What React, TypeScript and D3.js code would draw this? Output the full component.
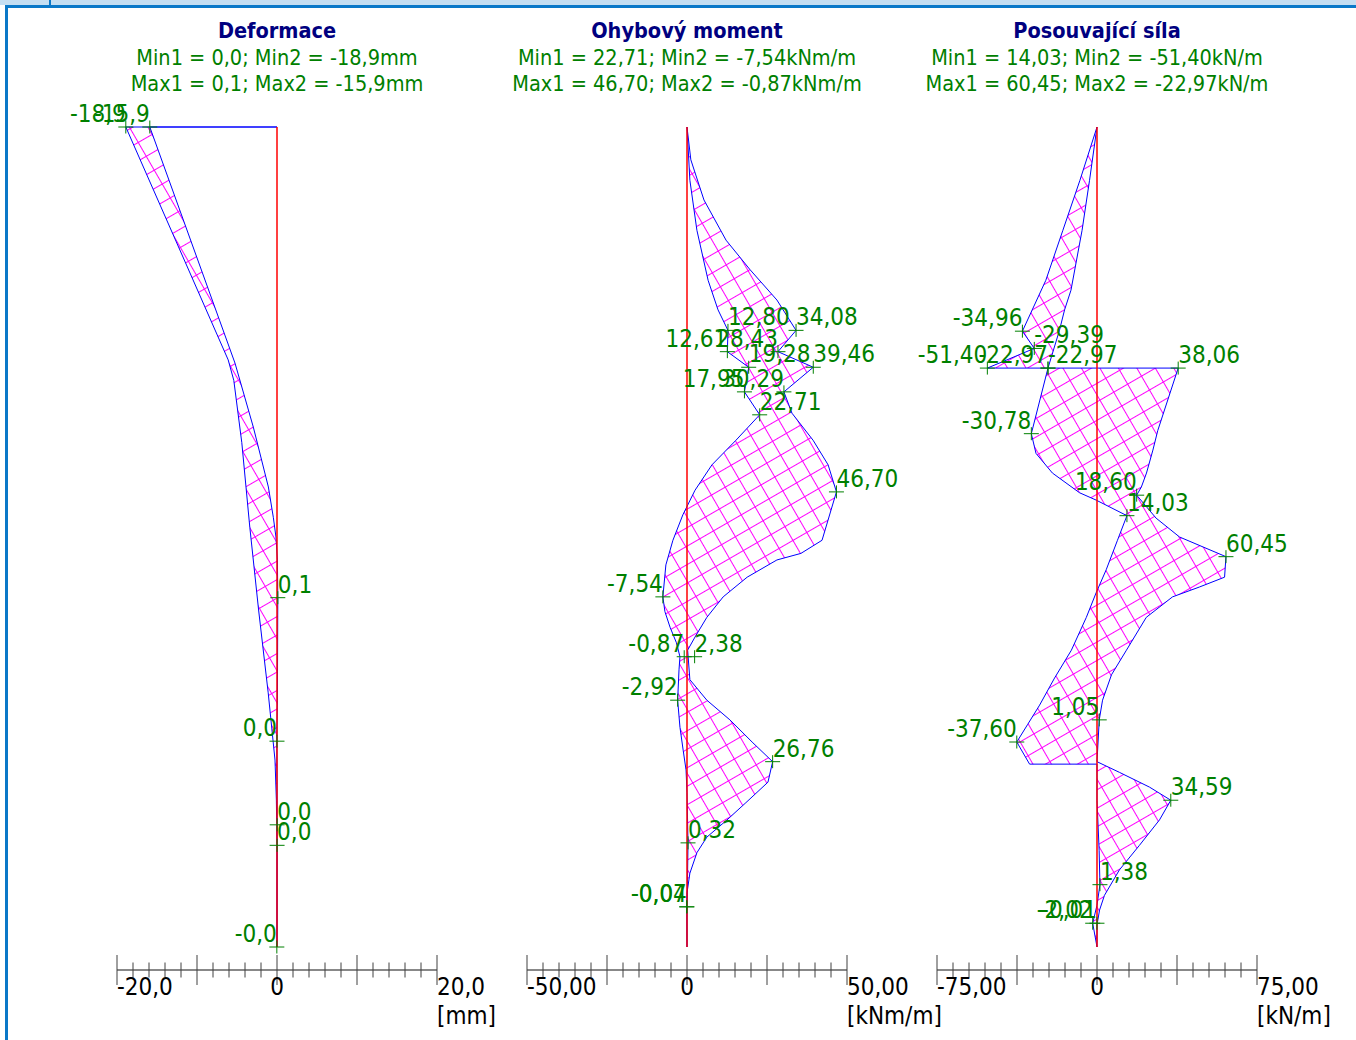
import React, { useRef, useEffect } from 'react';
import * as d3 from 'd3';

// --- panels ---
const titles = ['Deformace', 'Ohybový moment', 'Posouvající síla'];
const units = ['mm', 'kNm/m', 'kN/m'];
const axisMax = [20, 50, 75];
const decimals = [1, 2, 2];
const min1 = [0.0, 22.71, 14.03];
const min2 = [-18.9, -7.54, -51.4];
const max1 = [0.1, 46.7, 60.45];
const max2 = [-15.9, -0.87, -22.97];

// depth along the wall [m], 0 = top
// deformace [mm]
const deformDepthA = [0, 2.84, 3.09, 3.85, 4.88, 5.89, 6.9, 7.72, 8.21, 8.82, 10];
const deformA = [-18.9, -6.1, -5.4, -4.4, -3.4, -2.3, -1.1, -0.25, -0.08, 0, 0];
const deformDepthB = [0, 2.88, 3.66, 4.39, 4.76, 5.0, 5.28, 5.74, 6.99, 7.49, 8.51, 10];
const deformB = [-15.9, -5.25, -2.96, -1.08, -0.46, -0.13, 0.05, 0.1, 0.05, -0.02, 0.02, 0];

// ohybovy moment [kNm/m]
const momentDepthA = [0, 0.65, 1.26, 1.87, 2.23, 2.48, 2.74, 2.93, 3.23, 3.51, 3.82, 4.12, 4.43, 4.73, 5.04, 5.34, 5.73,
  5.91, 6.1, 6.29, 6.46, 6.62, 6.99, 7.32, 7.6, 7.84, 8.12, 8.73, 9.34, 9.51, 10];
const momentA = [0, 0.9, 3.1, 6.6, 9.7, 12.8, 12.61, 19.28, 17.95, 22.71, 15.3, 7.8, 2.5, -1.3, -4.4, -6.6, -7.54,
  -6.9, -5.3, -3.3, -2.2, -2.5, -2.92, -2.2, -1.2, -0.3, 0, 0.32, 0.1, -0.05, 0];
const momentDepthB = [0, 0.4, 0.89, 1.38, 1.74, 2.11, 2.48, 2.74, 2.93, 3.23, 3.49, 3.82, 4.12, 4.45, 5.04, 5.2, 5.28,
  5.49, 5.73, 5.98, 6.22, 6.38, 6.74, 6.99, 7.23, 7.51, 7.74, 7.99, 8.24, 8.45, 8.66, 8.85, 9.1, 9.34, 10];
const momentB = [0, 1.2, 5.3, 12.2, 19.7, 28.1, 34.08, 28.43, 39.46, 30.29, 32.8, 39.4, 44.1, 46.7, 42.2, 35.6, 28.1,
  18.8, 11.3, 6.2, 2.5, 0.2, 0.9, 6.2, 13.4, 20.6, 26.76, 25.3, 18.4, 12.5, 6.2, 3.1, 0.9, 0, 0];

// posouvajici sila [kN/m]
const shearDepthA = [0, 0.65, 1.26, 1.87, 2.49, 2.7, 2.94, 2.94, 3.7, 3.94, 4.22, 4.39, 4.49, 4.77, 5.0, 5.24, 5.49,
  5.61, 5.73, 5.98, 6.38, 6.68, 6.99, 7.23, 7.74, 7.87, 8.05, 8.21, 8.45, 8.76, 9.06, 9.37, 9.55, 9.73, 10];
const shearA = [0, -8, -16, -24, -34.96, -29.39, -51.4, 38.06, 28.5, 26.2, 23.2, 20.8, 18.6, 27.7, 38.7, 60.45, 59.8,
  48.0, 35.4, 23.1, 13.8, 6.8, 2.6, 1.05, 0, 10.5, 24.6, 34.59, 29.3, 19.9, 10.5, 3.5, 1.2, 0, 0];
const shearDepthB = [0, 0.65, 1.26, 1.99, 2.23, 2.48, 2.94, 3.74, 3.98, 4.22, 4.46, 4.55, 4.74, 5.04, 5.4, 5.68, 5.98,
  6.38, 6.72, 7.05, 7.29, 7.5, 7.77, 7.77, 8.21, 8.82, 9.24, 9.49, 9.71, 10];
const shearB = [0, -3.5, -7, -12.2, -15.2, -17.6, -22.97, -30.78, -28.6, -20.9, -8.2, -0.4, 14.03, 9.6, 4.3, -0.4, -5.0,
  -12.0, -19.9, -26.9, -32.6, -37.6, -31.6, 0, 0, 1.0, 1.38, 0, -2.02, 0];

// labelled extremes: depth, value, side of the label (L = text left of point)
const deformMarks = [
  { d: 0, v: -18.9, side: 'L' }, { d: 0, v: -15.9, side: 'L' }, { d: 5.74, v: 0.1, side: 'R' },
  { d: 7.49, v: 0, side: 'L' }, { d: 8.51, v: 0.02, side: 'R' }, { d: 8.76, v: 0.01, side: 'R' },
  { d: 10, v: -0.02, side: 'L' },
];
const momentMarks = [
  { d: 2.48, v: 12.8, side: 'R' }, { d: 2.48, v: 34.08, side: 'R' }, { d: 2.74, v: 12.61, side: 'L' },
  { d: 2.74, v: 28.43, side: 'L' }, { d: 2.93, v: 19.28, side: 'R' }, { d: 2.93, v: 39.46, side: 'R' },
  { d: 3.23, v: 17.95, side: 'L' }, { d: 3.23, v: 30.29, side: 'L' }, { d: 3.51, v: 22.71, side: 'R' },
  { d: 4.45, v: 46.7, side: 'R' }, { d: 5.73, v: -7.54, side: 'L' }, { d: 6.46, v: -0.87, side: 'L' },
  { d: 6.46, v: 2.38, side: 'R' }, { d: 6.99, v: -2.92, side: 'L' }, { d: 7.74, v: 26.76, side: 'R' },
  { d: 8.73, v: 0.32, side: 'R' }, { d: 9.51, v: -0.04, side: 'L' }, { d: 9.51, v: -0.07, side: 'L' },
];
const shearMarks = [
  { d: 2.49, v: -34.96, side: 'L' }, { d: 2.7, v: -29.39, side: 'R' }, { d: 2.94, v: -51.4, side: 'L' },
  { d: 2.94, v: -22.97, side: 'L' }, { d: 2.94, v: -22.97, side: 'R' }, { d: 2.94, v: 38.06, side: 'R' },
  { d: 3.74, v: -30.78, side: 'L' }, { d: 4.49, v: 18.6, side: 'L' }, { d: 4.74, v: 14.03, side: 'R' },
  { d: 5.24, v: 60.45, side: 'R' }, { d: 7.23, v: 1.05, side: 'L' }, { d: 7.5, v: -37.6, side: 'L' },
  { d: 8.21, v: 34.59, side: 'R' }, { d: 9.24, v: 1.38, side: 'R' }, { d: 9.71, v: -2.02, side: 'L' },
  { d: 9.71, v: -0.01, side: 'L' },
];

const W = 1356, H = 1040;
const TOP = 127, BOTTOM = 947, AXIS_Y = 970;
const panelLeft = [117, 527, 937];
const PANEL_W = 320;
const FONT = "'DejaVu Sans Condensed', 'DejaVu Sans', sans-serif";
const GREEN = '#008000';

const fmt = (v: number, dec: number) => v.toFixed(dec).replace('.', ',');

function App() {
  const ref = useRef<SVGSVGElement>(null);

  useEffect(() => {
    const panels = [
      { dA: deformDepthA, vA: deformA, dB: deformDepthB, vB: deformB, marks: deformMarks },
      { dA: momentDepthA, vA: momentA, dB: momentDepthB, vB: momentB, marks: momentMarks },
      { dA: shearDepthA, vA: shearA, dB: shearDepthB, vB: shearB, marks: shearMarks },
    ];

    const svg = d3.select(ref.current);
    svg.selectAll('*').remove();

    // crosshatch
    const pat = svg.append('defs').append('pattern')
      .attr('id', 'hatch')
      .attr('patternUnits', 'userSpaceOnUse')
      .attr('width', 16).attr('height', 16)
      .attr('patternTransform', 'rotate(-30)');
    pat.append('path').attr('d', 'M0,0.5H16M0.5,0V16')
      .attr('stroke', '#ff00ff').attr('stroke-width', 1).attr('fill', 'none');

    // window frame
    svg.append('rect').attr('x', 0).attr('y', 0).attr('width', W).attr('height', 5).attr('fill', '#c4def2');
    svg.append('rect').attr('x', 5).attr('y', 5).attr('width', W - 5).attr('height', 3).attr('fill', '#0a78c8');
    svg.append('rect').attr('x', 5).attr('y', 5).attr('width', 3).attr('height', H - 5).attr('fill', '#0a78c8');
    svg.append('rect').attr('x', 49).attr('y', 0).attr('width', 2).attr('height', 5).attr('fill', '#0a78c8');

    const y = d3.scaleLinear().domain([0, 10]).range([TOP, BOTTOM]);

    panels.forEach((p, i) => {
      const m = axisMax[i];
      const dec = decimals[i];
      const x = d3.scaleLinear().domain([-m, m]).range([panelLeft[i], panelLeft[i] + PANEL_W]);
      const cx = x(0);
      const g = svg.append('g');

      // headings
      g.append('text').attr('x', cx).attr('y', 38).attr('text-anchor', 'middle')
        .attr('font-family', FONT).attr('font-size', 21.5).attr('font-weight', 'bold').attr('fill', '#000080')
        .text(titles[i]);
      g.append('text').attr('x', cx).attr('y', 65).attr('text-anchor', 'middle')
        .attr('font-family', FONT).attr('font-size', 21.5).attr('fill', GREEN)
        .text(`Min1 = ${fmt(min1[i], dec)}; Min2 = ${fmt(min2[i], dec)}${units[i]}`);
      g.append('text').attr('x', cx).attr('y', 91).attr('text-anchor', 'middle')
        .attr('font-family', FONT).attr('font-size', 21.5).attr('fill', GREEN)
        .text(`Max1 = ${fmt(max1[i], dec)}; Max2 = ${fmt(max2[i], dec)}${units[i]}`);

      // envelope between the two curves
      const ptsA: [number, number][] = p.dA.map((d, k) => [x(p.vA[k]), y(d)]);
      const ptsB: [number, number][] = p.dB.map((d, k) => [x(p.vB[k]), y(d)]);
      const line = d3.line();
      g.append('path').attr('d', line(ptsA.concat(ptsB.slice().reverse())) + 'Z')
        .attr('fill', 'url(#hatch)').attr('stroke', 'none');

      // outlines
      [ptsA, ptsB].forEach((pts) => {
        g.append('path').attr('d', line(pts)).attr('fill', 'none').attr('stroke', '#0000ff').attr('stroke-width', 1);
        const first = pts[0], last = pts[pts.length - 1];
        g.append('line').attr('x1', first[0]).attr('x2', cx).attr('y1', first[1]).attr('y2', first[1])
          .attr('stroke', '#0000ff').attr('stroke-width', 1);
        g.append('line').attr('x1', last[0]).attr('x2', cx).attr('y1', last[1]).attr('y2', last[1])
          .attr('stroke', '#0000ff').attr('stroke-width', 1);
      });

      // zero line on top of the outlines
      g.append('line').attr('x1', cx).attr('x2', cx).attr('y1', y(0)).attr('y2', y(10))
        .attr('stroke', '#ff0000').attr('stroke-width', 1.5);

      // extreme markers + labels
      p.marks.forEach((mk) => {
        const px = x(mk.v), py = y(mk.d);
        g.append('path').attr('d', `M${px - 7.5},${py}H${px + 7.5}M${px},${py - 6.5}V${py + 6.5}`)
          .attr('stroke', GREEN).attr('stroke-width', 1).attr('fill', 'none');
        g.append('text').attr('x', px).attr('y', py - 5)
          .attr('text-anchor', mk.side === 'L' ? 'end' : 'start')
          .attr('font-family', FONT).attr('font-size', 24).attr('fill', GREEN)
          .text(fmt(mk.v, dec));
      });

      // bottom axis
      const ax = g.append('g');
      ax.append('line').attr('x1', x(-m)).attr('x2', x(m)).attr('y1', AXIS_Y).attr('y2', AXIS_Y)
        .attr('stroke', '#606060').attr('stroke-width', 1.5);
      d3.range(-10, 11).forEach((k) => {
        const tx = x((k * m) / 10);
        const len = k % 5 === 0 ? 15 : 7.5;
        ax.append('line').attr('x1', tx).attr('x2', tx).attr('y1', AXIS_Y - len).attr('y2', AXIS_Y + len)
          .attr('stroke', '#404040').attr('stroke-width', 1);
      });
      const tickLabels = [
        { v: -m, t: fmt(-m, dec), anchor: 'start' },
        { v: 0, t: '0', anchor: 'middle' },
        { v: m, t: fmt(m, dec), anchor: 'start' },
      ];
      tickLabels.forEach((tl) => {
        ax.append('text').attr('x', x(tl.v)).attr('y', 995).attr('text-anchor', tl.anchor)
          .attr('font-family', FONT).attr('font-size', 24).attr('fill', '#000').text(tl.t);
      });
      ax.append('text').attr('x', x(m)).attr('y', 1024).attr('text-anchor', 'start')
        .attr('font-family', FONT).attr('font-size', 24).attr('fill', '#000').text(`[${units[i]}]`);
    });
  }, []);

  return (
    <div style={{ position: 'absolute', left: 0, top: 0 }}>
      <svg ref={ref} width={W} height={H} style={{ display: 'block', background: '#fff' }} />
    </div>
  );
}

export default App;
